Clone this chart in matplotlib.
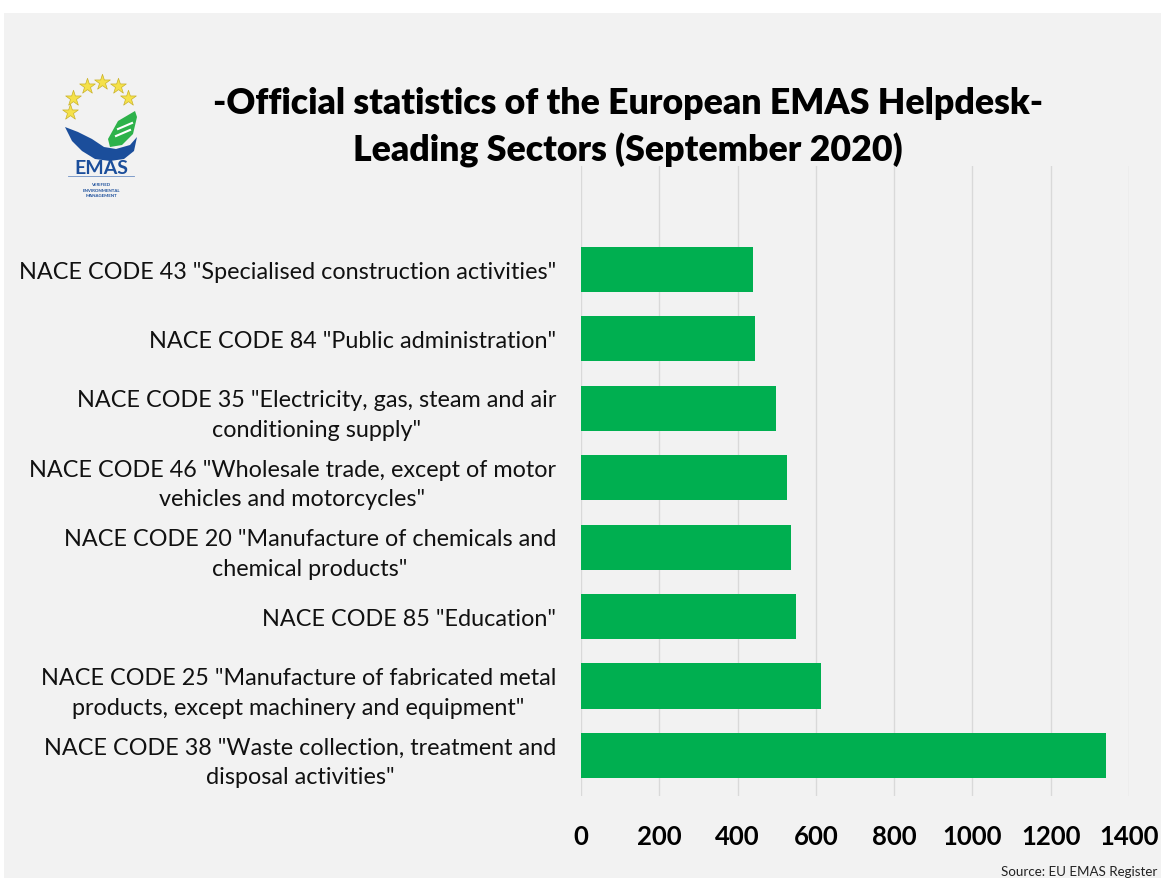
import matplotlib
matplotlib.use("Agg")
import matplotlib.pyplot as plt
from matplotlib.patches import Rectangle, Polygon
import numpy as np

# ---------------- data ----------------
categories = [
    'NACE CODE 38 "Waste collection, treatment and\ndisposal activities"',
    'NACE CODE 25 "Manufacture of fabricated metal\nproducts, except machinery and equipment"',
    'NACE CODE 85 "Education"',
    'NACE CODE 20 "Manufacture of chemicals and\nchemical products"',
    'NACE CODE 46 "Wholesale trade, except of motor\nvehicles and motorcycles"',
    'NACE CODE 35 "Electricity, gas, steam and air\nconditioning supply"',
    'NACE CODE 84 "Public administration"',
    'NACE CODE 43 "Specialised construction activities"',
]
values = [1340, 613, 550, 537, 525, 498, 444, 439]
x_ticks = [0, 200, 400, 600, 800, 1000, 1200, 1400]

title_line1 = "-Official statistics of the European EMAS Helpdesk-"
title_line2 = "Leading Sectors (September 2020)"
source_text = "Source: EU EMAS Register"

FONT = "Lato"
W, H = 1161, 879
BG = "#F2F2F2"
GREEN = "#00AF50"

fig = plt.figure(figsize=(W / 100, H / 100), dpi=100)
fig.patch.set_facecolor("white")
fig.patches.append(Rectangle((4 / W, 0), 1, 1 - 14 / H, transform=fig.transFigure,
                             facecolor=BG, edgecolor="none", zorder=-10))

ax = fig.add_axes([581 / W, 1 - 797 / H, 548 / W, (797 - 167) / H])
ax.set_facecolor("none")
y = np.arange(len(categories))
ax.barh(y, values, height=0.65, color=GREEN, zorder=3)
ax.set_xlim(0, 1400)
ax.set_ylim(-0.584, 8.49)
ax.set_xticks(x_ticks)
ax.set_xticklabels([str(t) for t in x_ticks], fontsize=18.5, fontweight="bold",
                   family=FONT, color="black")
ax.set_yticks(y)
ax.set_yticklabels(categories, fontsize=16.8, family=FONT, color="#111111",
                   linespacing=1.5)
for lbl in ax.get_yticklabels():
    lbl.set_multialignment("center")
ax.tick_params(axis="both", length=0)
ax.tick_params(axis="x", pad=20)
ax.tick_params(axis="y", pad=18)
ax.grid(axis="x", color="#D9D9D9", linewidth=1.0, zorder=0)
ax.grid(axis="y", visible=False)
for s in ax.spines.values():
    s.set_visible(False)

# title
fig.text(628 / W, 1 - 103 / H, title_line1, ha="center", va="center",
         fontsize=25.7, fontweight="heavy", family=FONT)
fig.text(628 / W, 1 - 150 / H, title_line2, ha="center", va="center",
         fontsize=25.7, fontweight="heavy", family=FONT)

# source
fig.text(1157 / W, 1 - 872 / H, source_text, ha="right", va="center",
         fontsize=9.6, family=FONT, color="#222222")

# ---------------- logo (decoration) ----------------
lax = fig.add_axes([40 / W, 1 - 210 / H, 120 / W, 150 / H])
lax.set_xlim(40, 160)
lax.set_ylim(210, 60)
lax.axis("off")
star_x = [70, 73, 87, 102, 118, 128]
star_y = [113, 99, 87, 83, 87, 99]
lax.scatter(star_x, star_y, marker="*", s=140, color="#F5E14A",
            edgecolors="#C9B22A", linewidths=0.5, zorder=3)
leaf = Polygon([(108, 140), (118, 122), (135, 112), (137, 118), (133, 135),
                (122, 146), (110, 148)], closed=True, facecolor="#2DB24A",
               edgecolor="none", zorder=2)
lax.add_patch(leaf)
wave = Polygon([(65, 128), (78, 133), (92, 140), (104, 148), (116, 150),
                (130, 146), (137, 138), (134, 152), (124, 160), (110, 162),
                (95, 160), (82, 152), (72, 142)], closed=True,
               facecolor="#1B4E9B", edgecolor="none", zorder=2)
lax.add_patch(wave)
lax.plot([118, 132], [130, 124], color="white", lw=1.5, zorder=4)
lax.plot([116, 130], [137, 131], color="white", lw=1.5, zorder=4)
lax.text(101, 168, "EMAS", ha="center", va="center", fontsize=14,
         fontweight="bold", family=FONT, color="#1B4E9B")
lax.plot([68, 134], [177, 177], color="#6D8FC4", lw=0.6)
for yy, t in zip([185, 191, 196], ["VERIFIED", "ENVIRONMENTAL", "MANAGEMENT"]):
    lax.text(101, yy, t, ha="center", va="center", fontsize=3.2,
             fontweight="bold", family=FONT, color="#1B4E9B")

fig.savefig("out.png", dpi=100, facecolor=fig.get_facecolor())
